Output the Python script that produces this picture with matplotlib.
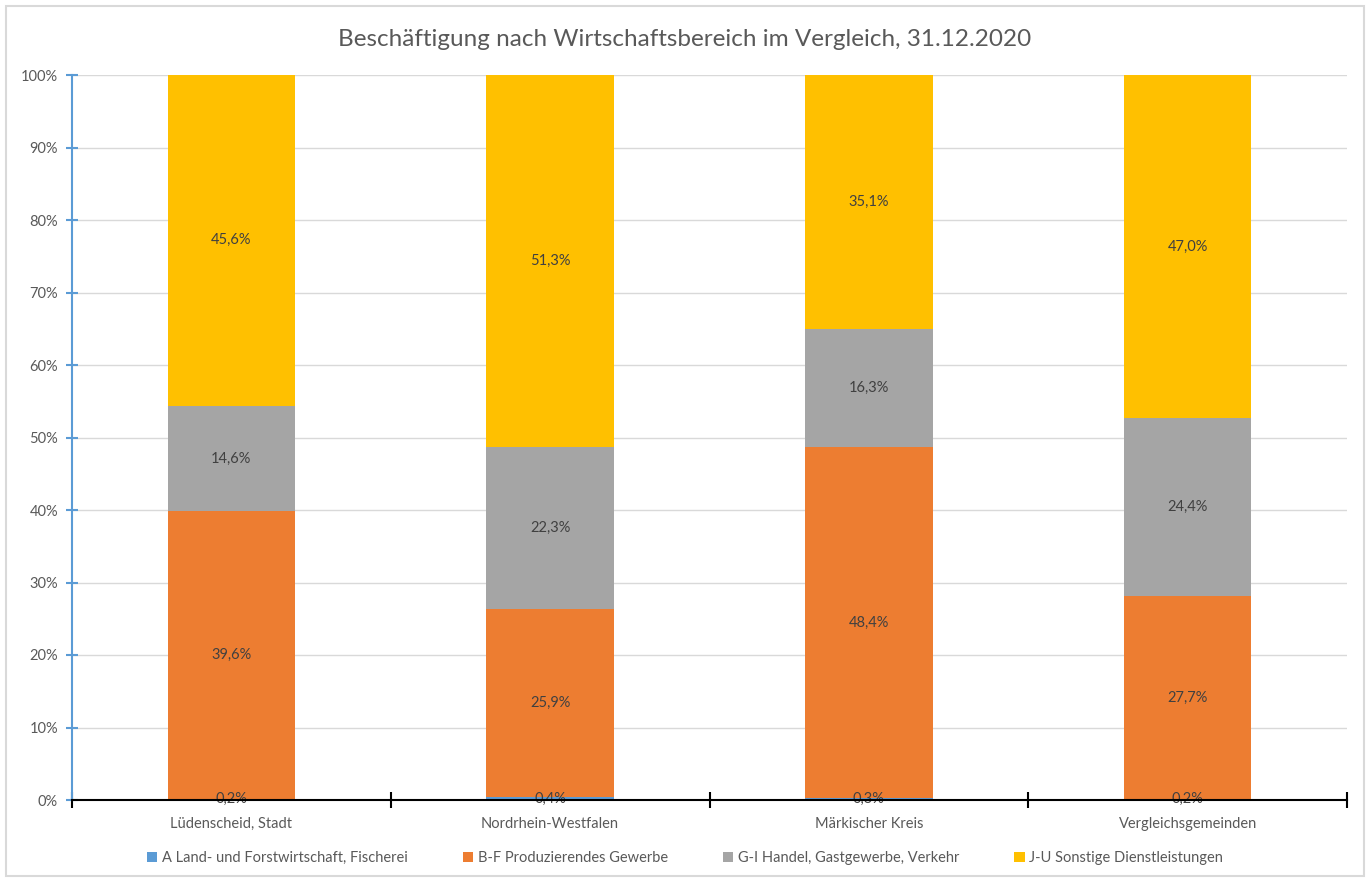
import matplotlib
matplotlib.use("Agg")
import matplotlib.pyplot as plt
import numpy as np
from matplotlib.patches import Rectangle
from matplotlib.ticker import FixedLocator, PercentFormatter

categories = ["Lüdenscheid, Stadt", "Nordrhein-Westfalen", "Märkischer Kreis", "Vergleichsgemeinden"]
series_names = ["A Land- und Forstwirtschaft, Fischerei",
                "B-F Produzierendes Gewerbe",
                "G-I Handel, Gastgewerbe, Verkehr",
                "J-U Sonstige Dienstleistungen"]
a_vals = [0.2, 0.4, 0.3, 0.2]
bf_vals = [39.6, 25.9, 48.4, 27.7]
gi_vals = [14.6, 22.3, 16.3, 24.4]
ju_vals = [45.6, 51.3, 35.1, 47.0]
colors = ["#5B9BD5", "#ED7D31", "#A5A5A5", "#FFC000"]
title = "Beschäftigung nach Wirtschaftsbereich im Vergleich, 31.12.2020"

plt.rcParams['font.family'] = ['Lato', 'DejaVu Sans']
txt = "#595959"

fig = plt.figure(figsize=(13.7, 8.82), dpi=100)
fig.patches.append(Rectangle((6/1370, 6/882), 1358/1370, 870/882, transform=fig.transFigure,
                             fill=False, edgecolor="#D9D9D9", linewidth=1.5))
ax = fig.add_axes([72/1370, 1-800/882, 1275/1370, 725/882])

data = np.array([a_vals, bf_vals, gi_vals, ju_vals])
totals = data.sum(axis=0)
shares = data / totals * 100
x = np.arange(len(categories))
bottom = np.zeros(len(categories))
for i, name in enumerate(series_names):
    ax.bar(x, shares[i], 0.4, bottom=bottom, color=colors[i], label=name, zorder=2)
    for j in range(len(categories)):
        ax.text(x[j], bottom[j] + shares[i][j] / 2, f"{data[i][j]:.1f}%".replace(".", ","),
                ha="center", va="center", fontsize=10.5, color="#404040", zorder=3)
    bottom += shares[i]

ax.set_xlim(-0.5, len(categories) - 0.5)
ax.set_ylim(0, 100)
ax.yaxis.set_major_locator(FixedLocator(np.arange(0, 101, 10)))
ax.yaxis.set_major_formatter(PercentFormatter(decimals=0))
ax.grid(axis="y", color="#D9D9D9", linewidth=1, zorder=0)
ax.set_axisbelow(True)

for s in ["top", "right"]:
    ax.spines[s].set_visible(False)
ax.spines["left"].set_color("#5B9BD5")
ax.spines["left"].set_linewidth(1.5)
ax.spines["bottom"].set_color("black")
ax.spines["bottom"].set_linewidth(1.5)
ax.spines["bottom"].set_zorder(4)

ax.tick_params(axis="y", direction="inout", length=8, width=1.5, color="#5B9BD5",
               labelsize=10.5, labelcolor=txt, pad=6)
ax.set_xticks(x)
ax.set_xticklabels(categories)
ax.tick_params(axis="x", which="major", length=0, labelsize=10.5, labelcolor=txt, pad=12)
ax.set_xticks(np.arange(-0.5, len(categories), 1.0), minor=True)
ax.tick_params(axis="x", which="minor", direction="inout", length=12, width=1.5, color="black")

fig.text(0.5, 1-40/882, title, ha="center", va="center", fontsize=17.5, color=txt)

handles, labels = ax.get_legend_handles_labels()
fig.legend(handles, labels, loc="center", bbox_to_anchor=(0.5, 1-858/882), ncol=4,
           frameon=False, fontsize=10.5, labelcolor=txt, handlelength=0.7, handleheight=0.7,
           handletextpad=0.3, columnspacing=3.8)

fig.savefig("out.png", dpi=100)
